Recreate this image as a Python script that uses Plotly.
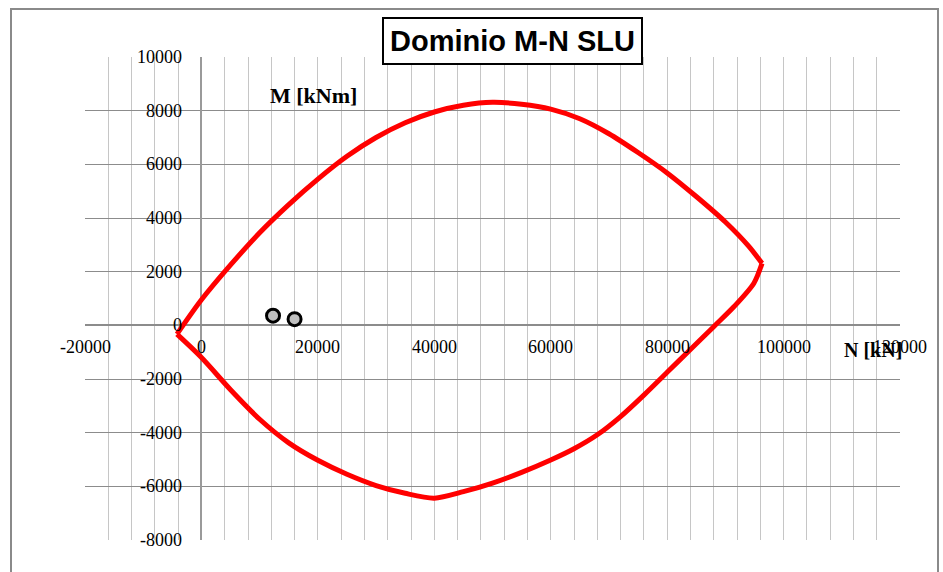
import plotly.graph_objects as go

# Interaction domain M-N (ULS), N [kN] vs M [kNm]
# upper branch: from the tension vertex to the compression vertex
N_up = [-4200, 0, 5000, 10000, 15000, 20000, 25000, 30000, 35000, 40000, 45000,
        50000, 55000, 60000, 65000, 70000, 75000, 80000, 85000, 90000, 94000,
        96300]
M_up = [-330, 950, 2250, 3450, 4500, 5450, 6300, 7000, 7550, 7950, 8200,
        8310, 8240, 8060, 7700, 7140, 6440, 5680, 4800, 3850, 2950,
        2310]
# lower branch: back from the compression vertex to the tension vertex
N_lo = [96300, 94900, 91500, 88000, 84000, 80000, 76000, 72000, 68000, 64000,
        60000, 55000, 50000, 45000, 40000, 35000, 30000, 25000, 20000, 15000,
        10000, 5000, 0, -4200]
M_lo = [2310, 1570, 700, -50, -900, -1750, -2600, -3400, -4080, -4600,
        -5020, -5480, -5880, -6200, -6440, -6260, -5970, -5550, -5030, -4380,
        -3500, -2400, -1200, -330]

# Design load combinations
N_load = [12300, 16000]
M_load = [360, 230]

x_ticks = [-20000, 0, 20000, 40000, 60000, 80000, 100000, 120000]
y_ticks = [-8000, -6000, -4000, -2000, 0, 2000, 4000, 6000, 8000, 10000]

W, H = 943, 572
ML, MR, MT, MB = 85, 43, 57, 32
PW, PH = W - ML - MR, H - MT - MB


def px(xp):
    return (xp - ML) / PW


def py(yp):
    return (H - MB - yp) / PH


fig = go.Figure()
for xs, ys in ((N_up, M_up), (N_lo, M_lo)):
    fig.add_trace(go.Scatter(x=xs, y=ys, mode="lines",
                             line=dict(color="#ff0000", width=5,
                                       shape="spline", smoothing=0.8),
                             hoverinfo="skip", showlegend=False))
fig.add_trace(go.Scatter(x=N_load, y=M_load, mode="markers",
                         marker=dict(size=13, color="#bfbfbf",
                                     line=dict(color="black", width=3)),
                         showlegend=False))

serif = "Liberation Serif"
ann = []
for v in x_ticks:
    ann.append(dict(x=v, y=0, xref="x", yref="y", text=str(v), showarrow=False,
                    xanchor="center", yanchor="middle", yshift=-22,
                    font=dict(family=serif, size=18, color="black")))
for v in y_ticks:
    ann.append(dict(x=0, y=v, xref="x", yref="y", text=str(v), showarrow=False,
                    xanchor="right", yanchor="middle", xshift=-17,
                    font=dict(family=serif, size=18, color="black")))

ann.append(dict(x=px(268), y=py(95), xref="paper", yref="paper",
                text="<b>M [kNm]</b>", showarrow=False, xanchor="left",
                yanchor="middle", font=dict(family=serif, size=22, color="black")))
ann.append(dict(x=px(842), y=py(350), xref="paper", yref="paper",
                text="<b>N [kN]</b>", showarrow=False, xanchor="left",
                yanchor="middle", font=dict(family=serif, size=20, color="black")))
ann.append(dict(x=px(512.5), y=py(41), xref="paper", yref="paper",
                text="<b>Dominio M-N SLU</b>", showarrow=False,
                xanchor="center", yanchor="middle", width=255, height=42,
                borderpad=1, bordercolor="black", borderwidth=2, bgcolor="white",
                font=dict(family="Liberation Sans", size=29, color="black")))

fig.update_layout(
    width=W, height=H, autosize=False,
    margin=dict(l=ML, r=MR, t=MT, b=MB, pad=0),
    paper_bgcolor="white", plot_bgcolor="white",
    showlegend=False,
    xaxis=dict(range=[-20000, 120000], dtick=4000, tick0=0,
               showgrid=True, gridcolor="#c6c6c6", gridwidth=1,
               zeroline=True, zerolinecolor="#9a9a9a", zerolinewidth=1.5,
               showticklabels=False, ticks="", showline=False, fixedrange=True),
    yaxis=dict(range=[-8000, 10000], dtick=2000, tick0=0,
               showgrid=True, gridcolor="#8c8c8c", gridwidth=1,
               zeroline=True, zerolinecolor="#8c8c8c", zerolinewidth=1.5,
               showticklabels=False, ticks="", showline=False, fixedrange=True),
    annotations=ann,
    shapes=[dict(type="rect", xref="paper", yref="paper",
                 x0=px(11), x1=px(938), y0=py(590), y1=py(9),
                 line=dict(color="#8a8a8a", width=2), layer="below")],
)

fig.write_html("out.html")
